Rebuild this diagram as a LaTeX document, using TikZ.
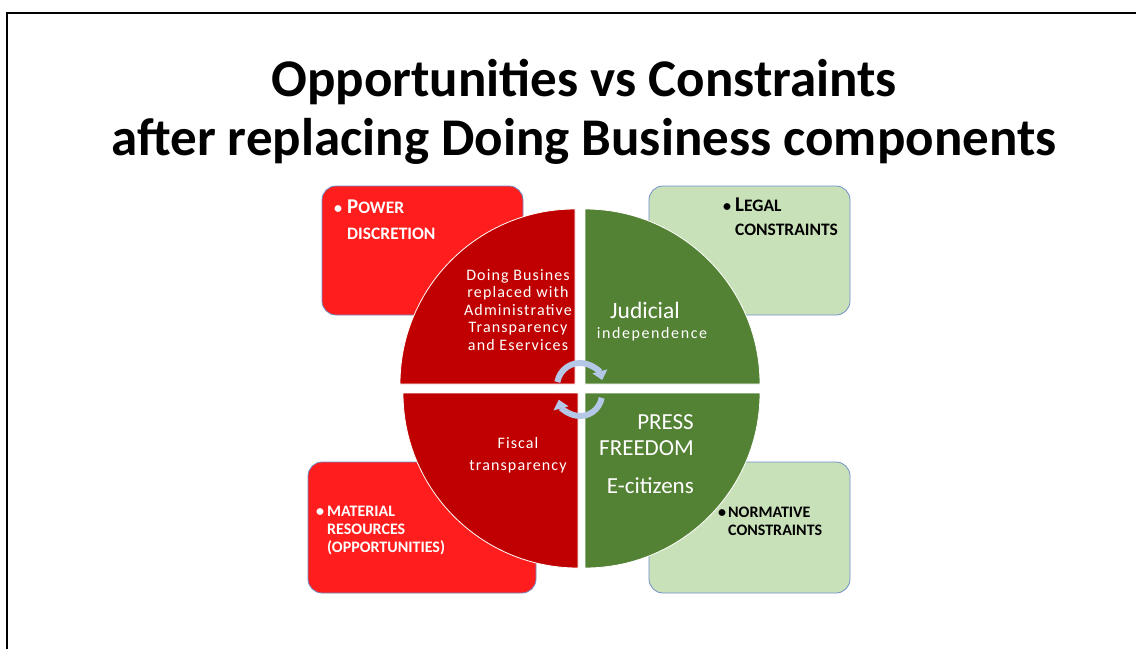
\documentclass[tikz,border=0pt]{standalone}
\usepackage{fontspec}
\setmainfont{Carlito}
\usetikzlibrary{arrows.meta,positioning}

\definecolor{quadred}{HTML}{C00000}
\definecolor{quadgreen}{HTML}{548235}
\definecolor{boxred}{HTML}{FF1D1D}
\definecolor{boxgreen}{HTML}{C9E1B9}
\definecolor{boxline}{HTML}{6E8FC8}
\definecolor{cyclearrow}{HTML}{B4C7E7}

% fake small caps: big initial, smaller rest
\newcommand{\initcap}[2]{{\fontsize{21}{21}\selectfont #1}{\fontsize{17.5}{17.5}\selectfont #2}}
\newcommand{\spaced}{\addfontfeature{LetterSpace=7}}

\begin{document}
\begin{tikzpicture}[x=1pt,y=-1pt,
            every node/.append style={inner sep=0pt},
            sidebox/.style={draw=boxline,line width=0.8pt,rounded corners=14pt},
            quad/.style={draw=white,line width=0.8pt},
            boxtext/.style={anchor=base west,align=left,font=\bfseries\fontsize{16}{18}\selectfont},
            quadtext/.style={text=white,font=\spaced\fontsize{16}{17.5}\selectfont},
            cyc/.style={draw=cyclearrow,line width=6pt,-{Triangle[length=9pt,width=15pt]}}
        ]
            \useasboundingbox (0,0) rectangle (1136,649);
            \draw[line width=2pt] (7,649) -- (7,13) -- (1136,13);

            % title (base = last line)
            \node[anchor=base,align=center,font=\bfseries\fontsize{53}{59}\selectfont] (title) at (584,155)
                {Opportunities vs Constraints\\after replacing Doing Business components};

            % side boxes behind the circle
            \node[sidebox,fill=boxred,minimum width=201,minimum height=129]   (power)     at (422.5,250.5) {};
            \node[sidebox,fill=boxgreen,minimum width=201,minimum height=129] (legal)     at (749.5,250.5) {};
            \node[sidebox,fill=boxred,minimum width=228,minimum height=131]   (material)  at (422,527.5) {};
            \node[sidebox,fill=boxgreen,minimum width=201,minimum height=131] (normative) at (749.5,527.5) {};

            \node[boxtext,text=white,font=\bfseries\fontsize{16}{26}\selectfont] (powertxt) at (334,239)
                {\makebox[13pt][l]{\textbullet}\initcap{P}{OWER}\\\hspace*{13pt}\initcap{}{DISCRETION}};
            \node[boxtext,font=\bfseries\fontsize{16}{24}\selectfont] (legaltxt) at (723,235)
                {\makebox[12pt][l]{\textbullet}\initcap{L}{EGAL}\\\hspace*{12pt}\initcap{}{CONSTRAINTS}};
            \node[boxtext,text=white] (materialtxt) at (316,552)
                {\makebox[11pt][l]{\textbullet}MATERIAL\\\hspace*{11pt}RESOURCES\\\hspace*{11pt}(OPPORTUNITIES)};
            \node[boxtext] (normativetxt) at (718,535)
                {\makebox[10pt][l]{\textbullet}NORMATIVE\\\hspace*{10pt}CONSTRAINTS};

            % the four quarters
            \fill[quad,fill=quadred]   (575,384) -- ++(-175,0) arc[start angle=180,end angle=270,radius=175] -- cycle;
            \fill[quad,fill=quadgreen] (585,384) -- ++(0,-175) arc[start angle=270,end angle=360,radius=175] -- cycle;
            \fill[quad,fill=quadred]   (578,393) -- ++(-175,0) arc[start angle=180,end angle=90,radius=175] -- cycle;
            \fill[quad,fill=quadgreen] (585,393) -- ++(175,0) arc[start angle=0,end angle=90,radius=175] -- cycle;

            \node[quadtext,anchor=base,align=center] (doing) at (518,350)
                {Doing Busines\\replaced with\\Administrative\\Transparency\\and Eservices};
            \node[anchor=base,text=white,font=\fontsize{23.5}{23.5}\selectfont] (judicial) at (645,318) {Judicial};
            \node[quadtext,anchor=base,font=\addfontfeature{LetterSpace=10}\fontsize{16}{16}\selectfont] (indep) at (652,338) {independence};
            \node[quadtext,anchor=base,align=center,font=\spaced\fontsize{16}{22}\selectfont] (fiscal) at (518,470)
                {Fiscal\\transparency};
            \node[anchor=base east,align=right,text=white,font=\fontsize{23}{26}\selectfont] (press) at (694,493)
                {PRESS\\FREEDOM\\[12pt]E-citizens};

            % cycle arrows in the middle
            \draw[cyc] (580,386) ++(190:23) arc[start angle=190,end angle=345,radius=23];
            \draw[cyc] (580,394) ++(10:22) arc[start angle=10,end angle=165,radius=22];
        \end{tikzpicture}
\end{document}
